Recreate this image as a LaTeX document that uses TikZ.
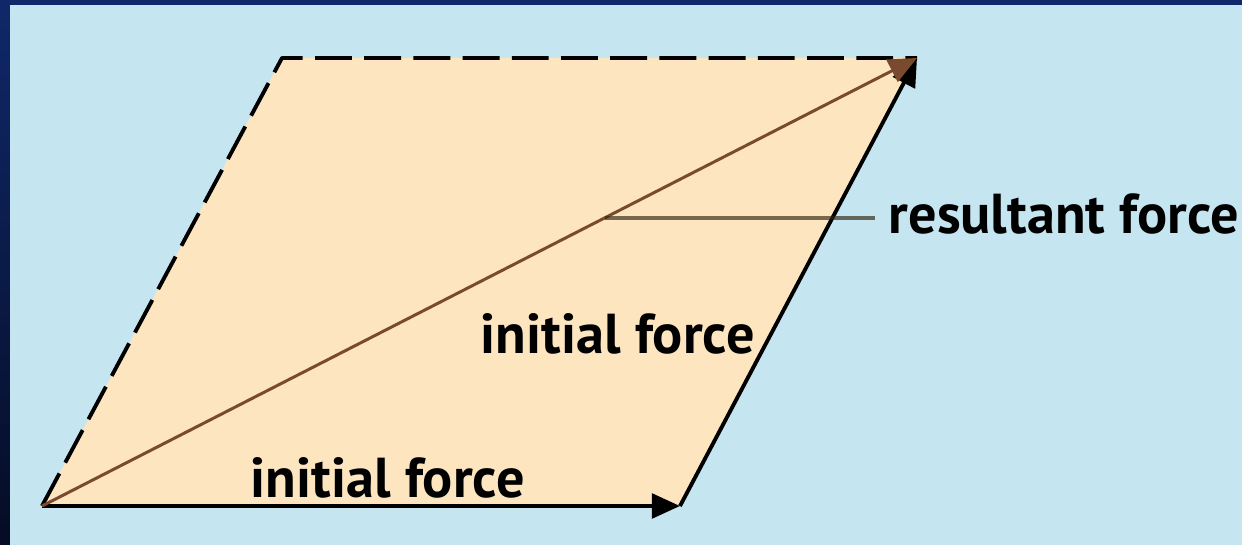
\documentclass[tikz,border=0pt]{standalone}
\usepackage{fontspec}
\setmainfont{PT Sans}
\usetikzlibrary{arrows.meta,calc}
\definecolor{navy}{HTML}{10286A}
\definecolor{deepnavy}{HTML}{050C24}
\definecolor{skyback}{HTML}{C5E5F0}
\definecolor{peach}{HTML}{FDE5C0}
\definecolor{resbrown}{HTML}{7A4A2E}
\definecolor{leaddark}{HTML}{2E2410}
\begin{document}
\begin{tikzpicture}[x=0.1mm, y=-0.1mm, line join=round, >={Triangle[length=8pt,width=7pt]}]
	\tikzset{lbl/.style={font=\bfseries\fontsize{16}{16}\selectfont, inner sep=0pt, anchor=base west},
		force/.style={line width=1.1pt, black},
		ghost/.style={line width=1.1pt, black, dash pattern=on 10.5pt off 3.5pt}}
	\useasboundingbox (0,0) rectangle (1242,545);
	% frame and background
	\shade[top color=navy, bottom color=deepnavy] (0,0) rectangle (1242,545);
	\fill[skyback] (10,5) rectangle (1242,545);
	% corners of the parallelogram
	\coordinate (O) at (42,506);
	\coordinate (B) at (680,506);
	\coordinate (C) at (917,58);
	\coordinate (D) at (282,58);
	\fill[peach] (O) -- (B) -- (C) -- (D) -- cycle;
	\draw[ghost] (O) -- (D) -- (C);
	\draw[force,->] (O) -- (B);
	\draw[force,->] (B) -- (C);
	\draw[resbrown, line width=0.85pt, ->] (O) -- (C);
	% labels
	\coordinate (L) at ($(O)!0.643!(C)$);
	\node[lbl] (res) at (888,233) {resultant force};
	\draw[leaddark, opacity=0.65, line width=1.2pt] (L) -- ([xshift=-1.3mm]res.west |- L);
	\node[lbl] (upper) at (480,353) {initial force};
	\node[lbl] (lower) at (250,497) {initial force};
\end{tikzpicture}
\end{document}
